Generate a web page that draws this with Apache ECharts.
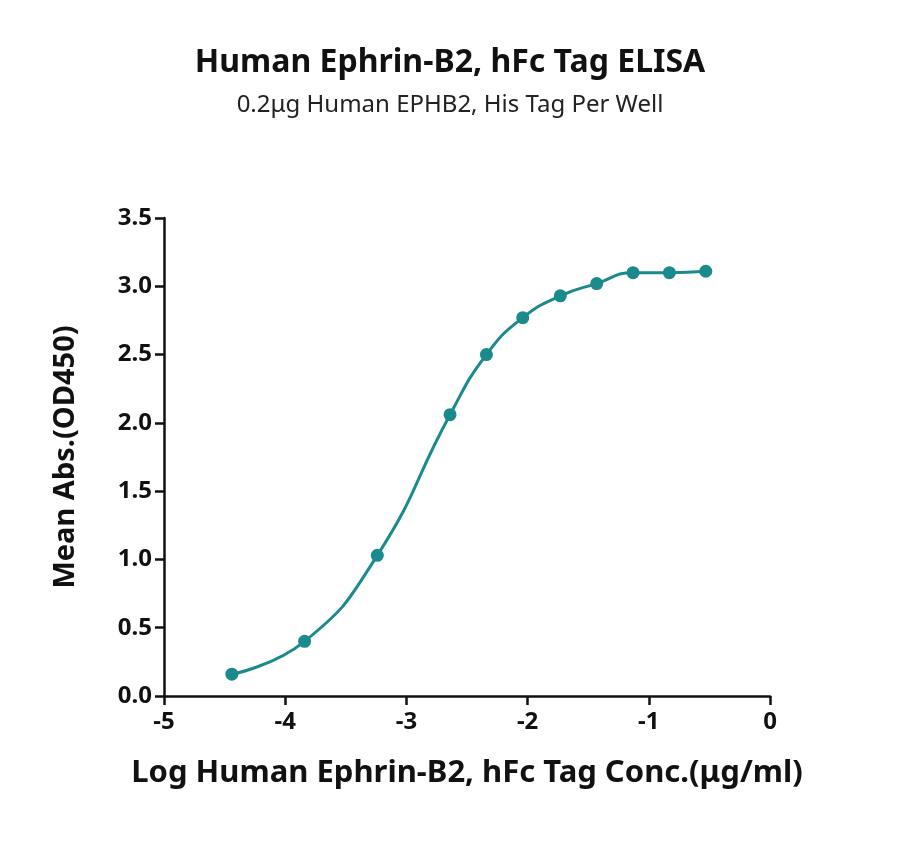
<!DOCTYPE html>
<html><head><meta charset="utf-8">
<script src="https://cdn.jsdelivr.net/npm/echarts@6/dist/echarts.min.js"></script>
<style>html,body{margin:0;padding:0;background:#fff}#c{width:900px;height:853px}</style>
</head><body><div id="c"></div>
<script>
const logConc = [-4.44,-3.84,-3.24,-2.64,-2.34,-2.04,-1.73,-1.43,-1.13,-0.83,-0.53];
const meanAbs = [0.16,0.40,1.03,2.06,2.50,2.77,2.93,3.02,3.10,3.10,3.11];
const xTicks = [-5,-4,-3,-2,-1,0];
const yTicks = [0,0.5,1,1.5,2,2.5,3,3.5];
const color = '#1b8a8c';
const chart = echarts.init(document.getElementById('c'));
const ff = '"Noto Sans", "Open Sans", sans-serif';
chart.setOption({
  animation:false,
  title:{text:'Human Ephrin-B2, hFc Tag ELISA',subtext:'0.2μg Human EPHB2, His Tag Per Well',left:'center',top:42,itemGap:14,
    textStyle:{fontFamily:ff,fontSize:32,fontWeight:'bold',color:'#111'},
    subtextStyle:{fontFamily:ff,fontSize:24,color:'#222'}},
  grid:{left:164,right:130,top:218,bottom:157},
  xAxis:{type:'value',min:-5,max:0,interval:1,
    name:'Log Human Ephrin-B2, hFc Tag Conc.(μg/ml)',nameLocation:'middle',nameGap:62,
    nameTextStyle:{fontFamily:ff,fontSize:31,fontWeight:'bold',color:'#111'},
    axisLine:{onZero:false,lineStyle:{color:'#111',width:2.5}},axisTick:{length:9,lineStyle:{width:2.5,color:'#111'}},
    axisLabel:{fontFamily:ff,fontSize:24,fontWeight:'bold',color:'#111',margin:14,formatter:v=>xTicks.includes(v)?String(v):''},
    splitLine:{show:false}},
  yAxis:{type:'value',min:0,max:3.5,interval:0.5,
    name:'Mean Abs.(OD450)',nameLocation:'middle',nameGap:84,
    nameTextStyle:{fontFamily:ff,fontSize:29,fontWeight:'bold',color:'#111'},
    axisLine:{show:true,onZero:false,lineStyle:{color:'#111',width:2.5}},axisTick:{show:true,length:9,lineStyle:{width:2.5,color:'#111'}},
    axisLabel:{fontFamily:ff,fontSize:24,fontWeight:'bold',color:'#111',margin:12,formatter:v=>yTicks.includes(v)?v.toFixed(1):''},
    splitLine:{show:false}},
  series:[{type:'line',data:logConc.map((x,i)=>[x,meanAbs[i]]),smooth:0.5,
    symbol:'circle',symbolSize:13,lineStyle:{color:color,width:3},itemStyle:{color:color}}]
});
</script></body></html>
